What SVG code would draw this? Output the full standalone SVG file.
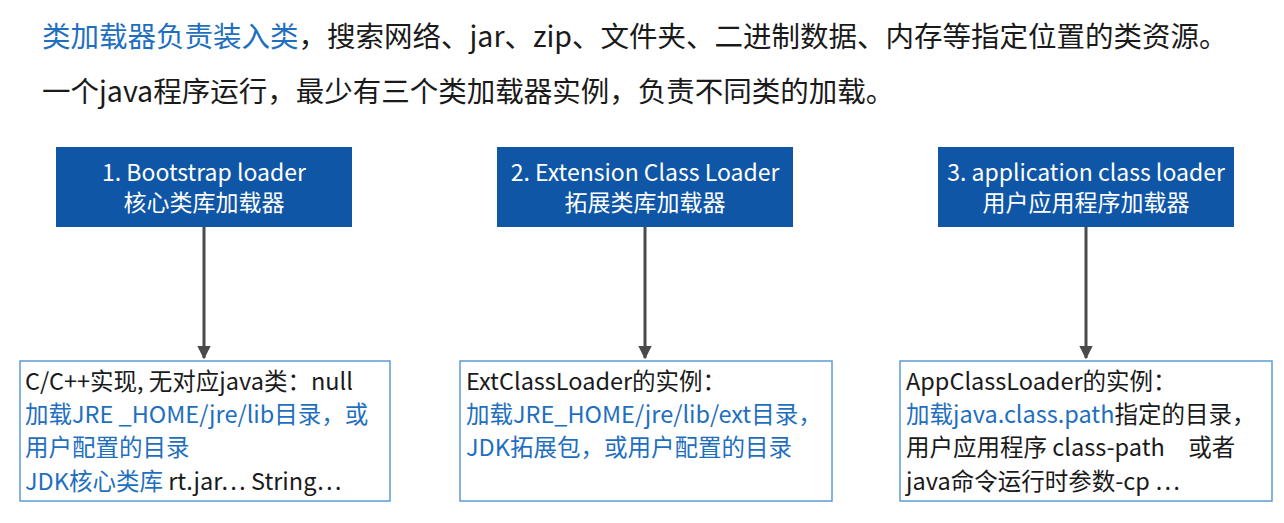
<svg xmlns="http://www.w3.org/2000/svg" width="1284" height="523" viewBox="0 0 1284 523">
<style>
text{font-family:"Noto Sans CJK SC","Noto Sans",sans-serif;fill:#1a1a1a}
.h{font-size:28.5px}
.t{fill:#fff;font-size:23px;text-anchor:middle}
.b{font-size:23.5px}
.bl{fill:#1f6fbf}
.top{fill:#0f56a6}
.bot{fill:#fff;stroke:#5b9bd5;stroke-width:1.5}
.c{stroke:#4a4a4a;stroke-width:3}
</style>
<defs><marker id="a" viewBox="0 0 10 10" refX="9" refY="5" markerWidth="4.5" markerHeight="4.5" orient="auto"><path d="M0 0L10 5L0 10z" fill="#4a4a4a"/></marker></defs>
<rect width="1284" height="523" fill="#fff"/>
<g id="title">
<text class="h" x="42" y="47"><tspan class="bl">类加载器负责装入类</tspan>，搜索网络、jar、zip、文件夹、二进制数据、内存等指定位置的类资源。</text>
<text class="h" x="42" y="102">一个java程序运行，最少有三个类加载器实例，负责不同类的加载。</text>
</g>
<g id="connectors">
<line class="c" x1="204" y1="227" x2="204" y2="358" marker-end="url(#a)"/>
<line class="c" x1="645" y1="227" x2="645" y2="358" marker-end="url(#a)"/>
<line class="c" x1="1086" y1="227" x2="1086" y2="358" marker-end="url(#a)"/>
</g>
<g id="n1"><rect class="top" x="56" y="147" width="296" height="80"/>
<text class="t" x="204" y="181">1. Bootstrap loader</text><text class="t" x="204" y="211">核心类库加载器</text></g>
<g id="n2"><rect class="top" x="497" y="147" width="296" height="80"/>
<text class="t" x="645" y="181">2. Extension Class Loader</text><text class="t" x="645" y="211">拓展类库加载器</text></g>
<g id="n3"><rect class="top" x="938" y="147" width="296" height="80"/>
<text class="t" x="1086" y="181">3. application class loader</text><text class="t" x="1086" y="211">用户应用程序加载器</text></g>
<g id="d1"><rect class="bot" x="20" y="361" width="370" height="140"/>
<text class="b" x="25" y="390">C/C++实现, 无对应java类：null</text>
<text class="b bl" x="25" y="423">加载JRE _HOME/jre/lib目录，或</text>
<text class="b bl" x="25" y="456">用户配置的目录</text>
<text class="b" x="25" y="490"><tspan class="bl">JDK核心类库</tspan> rt.jar… String…</text></g>
<g id="d2"><rect class="bot" x="460" y="361" width="372" height="140"/>
<text class="b" x="466" y="390">ExtClassLoader的实例：</text>
<text class="b bl" x="466" y="423">加载JRE_HOME/jre/lib/ext目录，</text>
<text class="b bl" x="466" y="456">JDK拓展包，或用户配置的目录</text></g>
<g id="d3"><rect class="bot" x="900" y="361" width="372" height="140"/>
<text class="b" x="906" y="390">AppClassLoader的实例：</text>
<text class="b" x="906" y="423"><tspan class="bl">加载java.class.path</tspan>指定的目录，</text>
<text class="b" x="906" y="456">用户应用程序 class-path　或者</text>
<text class="b" x="906" y="490">java命令运行时参数-cp …</text></g>
</svg>
